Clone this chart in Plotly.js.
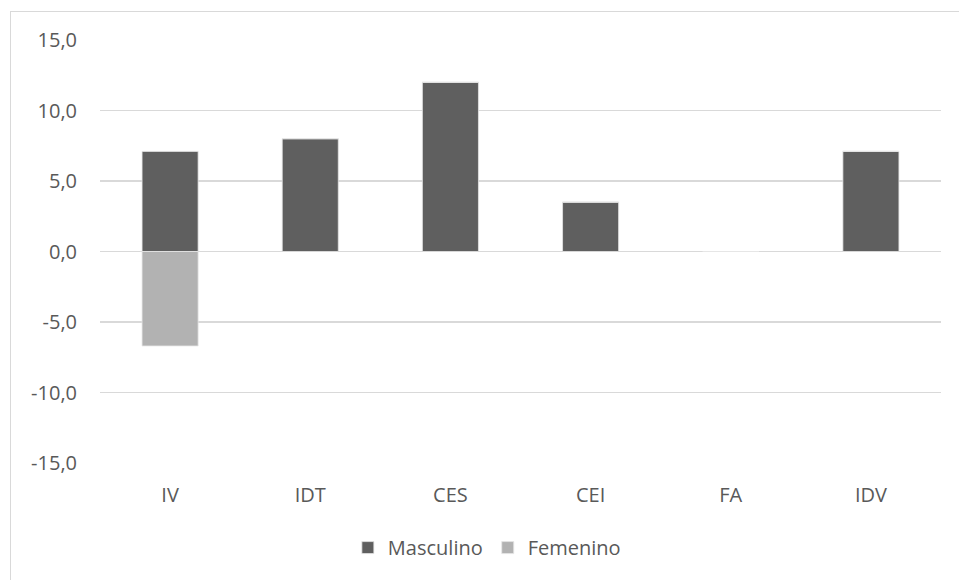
<!DOCTYPE html>
<html>
<head>
<meta charset="utf-8">
<script src="https://cdn.plot.ly/plotly-3.0.1.min.js"></script>
<style>
  html, body { margin: 0; padding: 0; background: #fff; }
  #wrap { position: relative; width: 959px; height: 580px; overflow: hidden; }
  #chart { position: absolute; left: 0; top: 0; width: 959px; height: 580px; }
  #frame { position: absolute; left: 10px; top: 11px; width: 1000px; height: 1000px;
           border: 1px solid #d9d9d9; box-sizing: border-box; pointer-events: none; }
</style>
</head>
<body>
<div id="wrap">
  <div id="chart"></div>
  <div id="frame"></div>
</div>
<script>
const categories = ["IV", "IDT", "CES", "CEI", "FA", "IDV"];
const masculino = [7.1, 8.0, 12.0, 3.5, 0, 7.1];
const femenino = [-6.7, 0, 0, 0, 0, 0];
const yTicks = [-15, -10, -5, 0, 5, 10, 15];
const yTickLabels = ["-15,0", "-10,0", "-5,0", "0,0", "5,0", "10,0", "15,0"];

const fontFam = "Open Sans, Liberation Sans, sans-serif";
const txt = "#595959";

const traces = [
  {
    type: "bar", name: "Masculino", x: categories, y: masculino,
    marker: { color: "#5f5f5f", line: { color: "#e6e6e6", width: 0.8 } },
    hoverinfo: "skip"
  },
  {
    type: "bar", name: "Femenino", x: categories, y: femenino,
    marker: { color: "#b2b2b2", line: { color: "#e6e6e6", width: 0.8 } },
    hoverinfo: "skip"
  }
];

const layout = {
  width: 959, height: 580,
  margin: { l: 100, r: 18, t: 40.3, b: 116.7, pad: 0 },
  paper_bgcolor: "#ffffff", plot_bgcolor: "#ffffff",
  barmode: "relative",
  bargap: 0.6,
  separators: ",.",
  font: { family: fontFam, size: 20, color: txt },
  showlegend: true,
  legend: {
    orientation: "h", x: 0.46, xanchor: "center", y: -0.2, yanchor: "middle",
    font: { family: fontFam, size: 20, color: txt },
    itemwidth: 30, traceorder: "normal"
  },
  xaxis: {
    type: "category", showgrid: false, zeroline: false, showline: false,
    ticks: "", ticklabelstandoff: 18,
    tickfont: { family: fontFam, size: 20, color: txt }
  },
  yaxis: {
    range: [-15, 15], tickmode: "array", tickvals: yTicks, ticktext: yTickLabels,
    showgrid: true, gridcolor: "#d9d9d9", gridwidth: 1.5,
    zeroline: true, zerolinecolor: "#d9d9d9", zerolinewidth: 1.5,
    showline: false, ticks: "", ticklabelstandoff: 22,
    tickfont: { family: fontFam, size: 20, color: txt }
  }
};

Plotly.newPlot("chart", traces, layout, { staticPlot: true, displayModeBar: false });
</script>
</body>
</html>
